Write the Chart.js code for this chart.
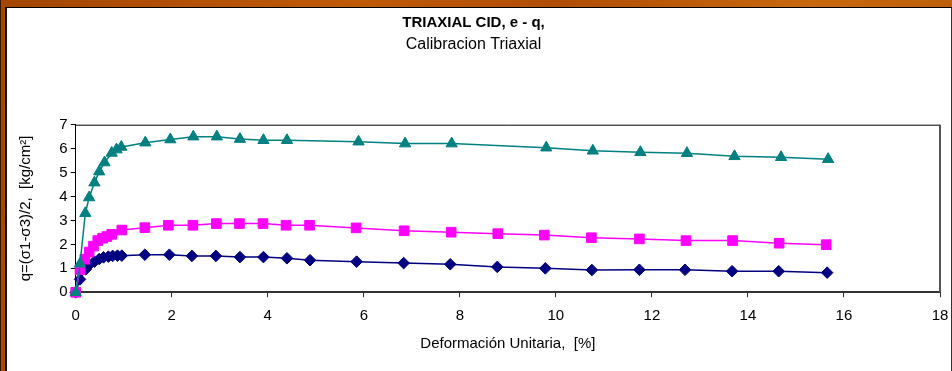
<!DOCTYPE html>
<html><head><meta charset="utf-8">
<script src="https://cdn.jsdelivr.net/npm/chart.js@4/dist/chart.umd.min.js"></script>
<style>
html,body{margin:0;padding:0;width:952px;height:371px;overflow:hidden;}
body{background:linear-gradient(100deg,#a44600 0%,#bf5a08 35%,#b04e04 55%,#c8680e 80%,#b85a08 100%);position:relative;}
#lstrip{position:absolute;left:0;top:0;width:1px;height:371px;background:#3a1800;}
#panel{position:absolute;left:5px;top:7px;width:947px;height:364px;background:#fff;border-top:1px solid #000;border-left:2px solid #111;border-right:1px solid #333;box-sizing:border-box;}
#wrap{position:absolute;left:7px;top:9px;width:943px;height:362px;}
</style></head>
<body>
<div id="lstrip"></div>
<div id="panel"></div>
<div id="wrap"><canvas id="c" width="943" height="362"></canvas></div>
<script>
// ---- data ----
const xTickValues = [0,2,4,6,8,10,12,14,16,18];
const yTickValues = [0,1,2,3,4,5,6,7];

const navyX = [0,0.09,0.21,0.28,0.39,0.49,0.58,0.68,0.77,0.87,0.96,1.44,1.95,2.42,2.92,3.42,3.91,4.40,4.88,5.85,6.83,7.80,8.78,9.78,10.75,11.74,12.69,13.67,14.64,15.65];
const navyY = [0,0.54,0.96,1.14,1.28,1.39,1.46,1.49,1.52,1.53,1.53,1.57,1.57,1.52,1.52,1.47,1.47,1.42,1.34,1.28,1.22,1.17,1.06,1.00,0.93,0.94,0.94,0.88,0.88,0.82];

const magentaX = [0,0.09,0.19,0.28,0.37,0.46,0.56,0.65,0.75,0.96,1.44,1.93,2.44,2.93,3.41,3.90,4.38,4.87,5.84,6.84,7.82,8.79,9.76,10.74,11.74,12.71,13.68,14.65,15.63];
const magentaY = [0,0.95,1.38,1.68,1.93,2.16,2.26,2.33,2.42,2.60,2.70,2.80,2.80,2.87,2.87,2.87,2.80,2.80,2.69,2.57,2.51,2.45,2.39,2.28,2.23,2.16,2.16,2.05,1.99];

const tealX = [0,0.09,0.20,0.28,0.39,0.49,0.60,0.75,0.85,0.95,1.45,1.97,2.45,2.94,3.42,3.91,4.40,5.89,6.86,7.83,9.80,10.77,11.76,12.73,13.72,14.69,15.67];
const tealY = [0,1.19,3.30,3.96,4.58,5.04,5.42,5.82,5.96,6.07,6.25,6.38,6.50,6.50,6.40,6.35,6.35,6.29,6.21,6.21,6.04,5.91,5.85,5.81,5.68,5.64,5.56];

const titleText = 'TRIAXIAL CID, e - q,';
const subtitleText = 'Calibracion Triaxial';
const xTitleText = 'Deformación Unitaria,  [%]';
const yTitleText = 'q=(σ1-σ3)/2,  [kg/cm²]';

const pts = (xs, ys) => xs.map((x, i) => ({x, y: ys[i]}));
const FONT = '"Liberation Sans", Arial, sans-serif';

const frame = {
  id: 'frame',
  afterDraw(chart) {
    const {ctx, chartArea: a} = chart;
    ctx.save();
    ctx.strokeStyle = '#000'; ctx.lineWidth = 1;
    ctx.beginPath(); ctx.moveTo(a.left, a.top + 0.5); ctx.lineTo(a.right, a.top + 0.5); ctx.stroke();
    ctx.strokeStyle = '#555'; ctx.lineWidth = 2;
    ctx.beginPath(); ctx.moveTo(a.right, a.top); ctx.lineTo(a.right, a.bottom); ctx.stroke();
    ctx.restore();
  }
};

new Chart(document.getElementById('c'), {
  type: 'line',
  data: {
    datasets: [
      {data: pts(tealX, tealY), borderColor: '#008080', backgroundColor: '#008080', pointStyle: 'triangle', pointRadius: 6.5, order: 0},
      {data: pts(magentaX, magentaY), borderColor: '#FF00FF', backgroundColor: '#FF00FF', pointStyle: 'rect', pointRadius: 6.8, order: 1},
      {data: pts(navyX, navyY), borderColor: '#000080', backgroundColor: '#000080', pointStyle: 'rectRot', pointRadius: 5.8, order: 2}
    ].map(d => Object.assign({borderWidth: 1.5, tension: 0, pointBorderWidth: 1, pointBorderColor: d.borderColor, pointBackgroundColor: d.backgroundColor, clip: false, fill: false}, d))
  },
  options: {
    responsive: false,
    devicePixelRatio: 1,
    animation: false,
    layout: {padding: {left: 0, right: 10, top: 0, bottom: 0}},
    plugins: {
      legend: {display: false},
      tooltip: {enabled: false},
      title: {display: true, text: titleText, color: '#000', font: {family: FONT, size: 15, weight: 'bold'}, padding: {top: 4.5, bottom: 0}},
      subtitle: {display: true, text: subtitleText, color: '#000', font: {family: FONT, size: 16}, padding: {top: 3.9, bottom: 70.1}}
    },
    scales: {
      x: {
        type: 'linear', min: 0, max: 18,
        afterBuildTicks: s => { s.ticks = xTickValues.map(v => ({value: v})); },
        afterFit: s => { s.height = 78.7; s.paddingLeft = 0; s.paddingRight = 0; },
        grid: {drawOnChartArea: false, drawTicks: true, tickLength: 5, color: '#333'},
        border: {color: '#333', width: 2},
        ticks: {color: '#000', font: {family: FONT, size: 15}, padding: 10, maxRotation: 0, autoSkip: false},
        title: {display: true, text: xTitleText, color: '#000', font: {family: FONT, size: 15}, padding: {top: 0, bottom: 18.6}}
      },
      y: {
        type: 'linear', min: 0, max: 7,
        afterBuildTicks: s => { s.ticks = yTickValues.map(v => ({value: v})); },
        afterFit: s => { s.width = 68.7; },
        grid: {drawOnChartArea: false, drawTicks: true, tickLength: 5, color: '#000'},
        border: {color: '#000', width: 1},
        ticks: {color: '#000', font: {family: FONT, size: 15}, padding: 3, autoSkip: false},
        title: {display: true, text: yTitleText, color: '#000', font: {family: FONT, size: 15}, padding: {top: 9.6, bottom: 0}}
      }
    }
  },
  plugins: [frame]
});
</script>
</body></html>
